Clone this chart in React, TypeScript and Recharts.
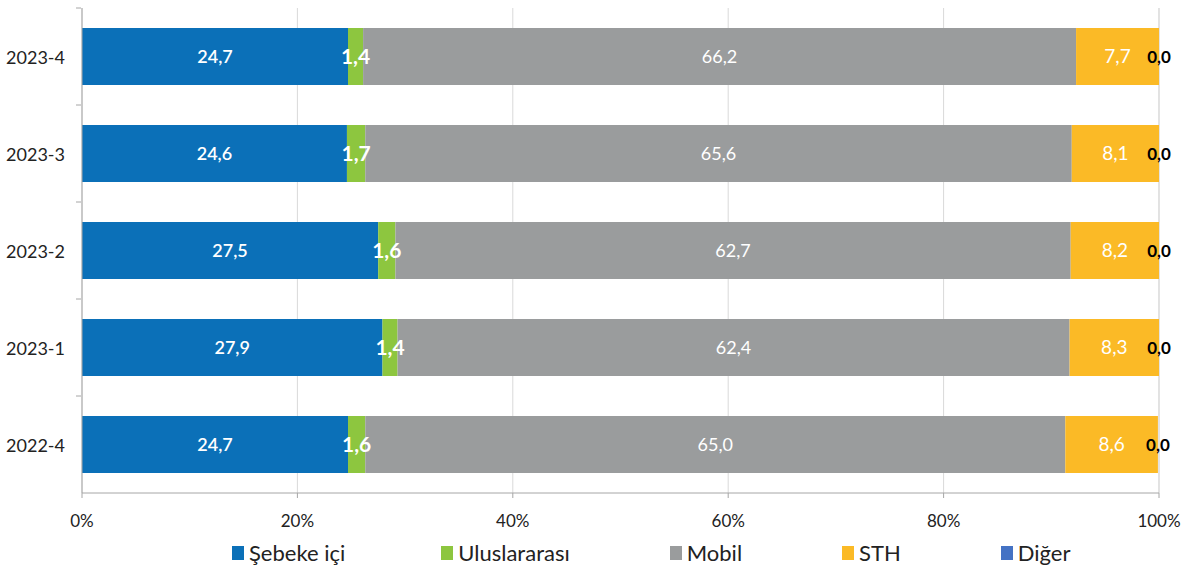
import { Bar, BarChart, CartesianGrid, LabelList, Legend, XAxis, YAxis } from "recharts";

const categories = ["2023-4", "2023-3", "2023-2", "2023-1", "2022-4"];
const sebekeIci = [24.7, 24.6, 27.5, 27.9, 24.7];
const uluslararasi = [1.4, 1.7, 1.6, 1.4, 1.6];
const mobil = [66.2, 65.6, 62.7, 62.4, 65.0];
const sth = [7.7, 8.1, 8.2, 8.3, 8.6];
const diger = [0.0, 0.0, 0.0, 0.0, 0.0];
const xTicks = [0, 20, 40, 60, 80, 100];

const series = [
  { key: "sebeke", name: "Şebeke içi", color: "#0b70b8" },
  { key: "ulus", name: "Uluslararası", color: "#8dc63f" },
  { key: "mobil", name: "Mobil", color: "#9a9c9d" },
  { key: "sth", name: "STH", color: "#fbba26" },
  { key: "diger", name: "Diğer", color: "#4472c4" },
];

const data = categories.map((name, i) => ({
  name,
  sebeke: sebekeIci[i],
  ulus: uluslararasi[i],
  mobil: mobil[i],
  sth: sth[i],
  diger: diger[i],
}));

const fmt = (v: any) => Number(v).toFixed(1).replace(".", ",");

const FONT = "Lato, 'Open Sans', sans-serif";

const YTick = (props: any) => {
  const { x, y, payload } = props;
  return (
    <g>
      <text x={x} y={y} textAnchor="end" dominantBaseline="central" fontSize={18} fill="#222" fontFamily={FONT}>
        {payload.value}
      </text>
      <line x1={x + 11} x2={x + 16} y1={y - 48.5} y2={y - 48.5} stroke="#a6a6a6" />
    </g>
  );
};

// "Diğer" is 0 wide, so its label sits at the right end of the stack
const DigerLabel = (props: any) => {
  const { x, y, width, height, value } = props;
  return (
    <text
      x={x + width}
      y={y + height / 2}
      textAnchor="middle"
      dominantBaseline="central"
      fontSize={17}
      fontWeight={700}
      fill="#000"
      fontFamily={FONT}
    >
      {fmt(value)}
    </text>
  );
};

const renderLegend = () => (
  <div style={{ display: "flex", paddingLeft: 232, fontFamily: FONT, fontSize: 22, color: "#222", lineHeight: "26px" }}>
    {series.map((s, i) => (
      <div key={s.key} style={{ display: "flex", alignItems: "center", marginRight: i === 0 ? 96 : 100 }}>
        <span style={{ width: 12, height: 14, background: s.color, display: "inline-block", marginRight: 5 }} />
        <span>{s.name}</span>
      </div>
    ))}
  </div>
);

export default function App() {
  return (
    <div style={{ position: "absolute", left: 0, top: 0, width: 1190, height: 570, background: "#fff" }}>
      <BarChart
        width={1190}
        height={570}
        data={data}
        layout="vertical"
        barSize={57}
        margin={{ top: 8, right: 31, left: 0, bottom: 11 }}
        style={{ fontFamily: FONT }}
      >
        <CartesianGrid horizontal={false} stroke="#d9d9d9" />
        <XAxis
          type="number"
          domain={[0, 100]}
          ticks={xTicks}
          tickFormatter={(v) => v + "%"}
          axisLine={{ stroke: "#a6a6a6" }}
          tickLine={{ stroke: "#a6a6a6" }}
          tickSize={5}
          tickMargin={17}
          height={40}
          tick={{ fontSize: 17, fill: "#222" }}
        />
        <YAxis
          type="category"
          dataKey="name"
          width={82}
          axisLine={{ stroke: "#a6a6a6" }}
          tickLine={false}
          tickMargin={11}
          tick={<YTick />}
        />
        <Legend content={renderLegend} wrapperStyle={{ left: 0, width: 1190, bottom: 4 }} />
        <Bar dataKey="sebeke" name="Şebeke içi" stackId="a" fill="#0b70b8" isAnimationActive={false}>
          <LabelList dataKey="sebeke" position="center" formatter={fmt} fill="#fff" fontSize={18} fontWeight={600} />
        </Bar>
        <Bar dataKey="ulus" name="Uluslararası" stackId="a" fill="#8dc63f" isAnimationActive={false}>
          <LabelList dataKey="ulus" position="center" formatter={fmt} fill="#fff" fontSize={21} fontWeight={700} />
        </Bar>
        <Bar dataKey="mobil" name="Mobil" stackId="a" fill="#9a9c9d" isAnimationActive={false}>
          <LabelList dataKey="mobil" position="center" formatter={fmt} fill="#fff" fontSize={18} />
        </Bar>
        <Bar dataKey="sth" name="STH" stackId="a" fill="#fbba26" isAnimationActive={false}>
          <LabelList dataKey="sth" position="center" formatter={fmt} fill="#fff" fontSize={19} />
          <LabelList dataKey="diger" content={<DigerLabel />} />
        </Bar>
        <Bar dataKey="diger" name="Diğer" stackId="a" fill="#4472c4" isAnimationActive={false} />
      </BarChart>
    </div>
  );
}
